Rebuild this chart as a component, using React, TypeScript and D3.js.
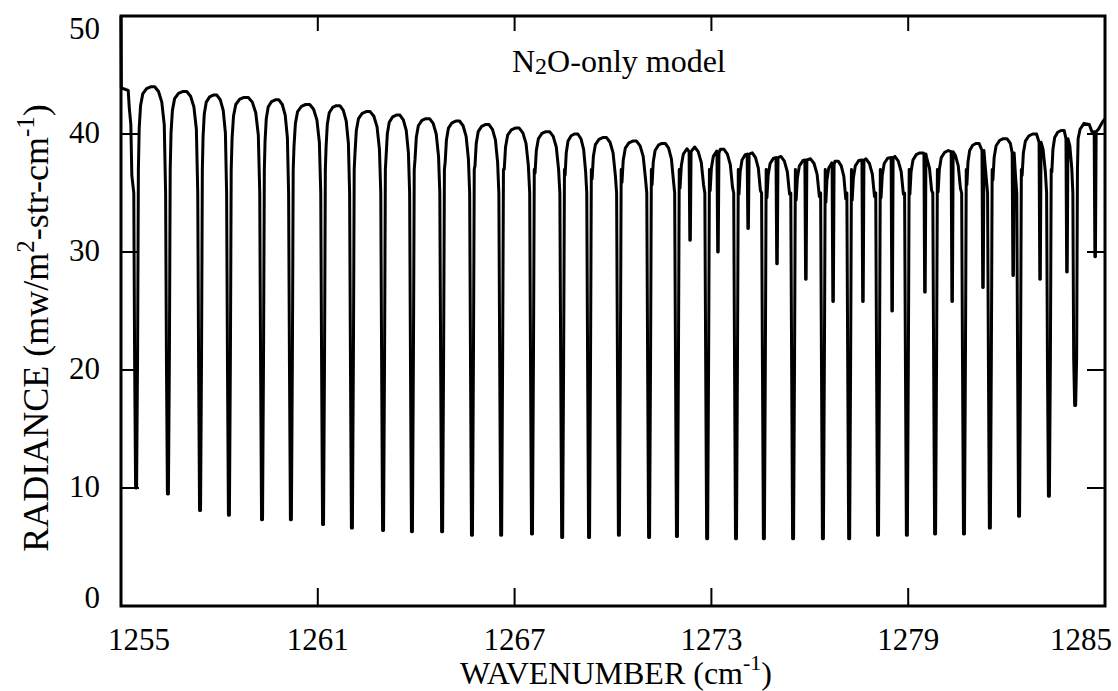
import React from 'react';
import { scaleLinear, line } from 'd3';

// strong N2O lines: wavenumber (cm-1) and radiance at the bottom of each line
const lineCenters = [
  1255.46, 1256.43, 1257.41, 1258.29, 1259.3, 1260.18, 1261.16, 1262.04,
  1262.99, 1263.87, 1264.79, 1265.7, 1266.59, 1267.53, 1268.45, 1269.27,
  1270.18, 1271.1, 1271.95, 1272.87, 1273.75, 1274.6, 1275.49, 1276.4,
  1277.2, 1278.08, 1278.96, 1279.82, 1280.7, 1281.49, 1282.38, 1283.29,
  1284.09,
];
const lineMinima = [
  10.0, 9.5, 8.1, 7.7, 7.3, 7.3, 6.9, 6.6,
  6.4, 6.3, 6.3, 6.0, 6.0, 6.1, 5.8, 5.8,
  6.0, 5.8, 5.9, 5.7, 5.7, 5.7, 5.7, 5.7,
  5.7, 6.0, 6.0, 6.1, 6.1, 6.6, 7.6, 9.3,
  17.0,
];
// top of the arch between one strong line and the next
const archPeaks = [
  44.0, 43.6, 43.3, 43.1, 42.9, 42.5, 42.4, 41.9,
  41.6, 41.3, 41.1, 40.8, 40.5, 40.2, 40.0, 39.7,
  39.4, 39.2, 38.9, 38.7, 38.4, 38.1, 37.9, 37.7,
  37.9, 38.1, 38.4, 38.6, 39.2, 39.6, 40.0, 40.3,
];
// weak (hot band) lines on the right half
const weakCenters = [
  1272.35, 1273.2, 1274.12, 1275.0, 1275.88, 1276.71, 1277.62, 1278.51,
  1279.51, 1280.34, 1281.28, 1282.2, 1283.02, 1283.84, 1284.7,
];
const weakTops = [
  38.5, 38.4, 38.3, 38.0, 37.8, 37.4, 37.8, 38.0,
  38.3, 38.5, 38.6, 38.4, 39.3, 39.6, 40.2,
];
const weakMinima = [
  31.0, 30.0, 32.0, 29.0, 27.7, 25.8, 25.8, 25.0,
  26.6, 25.8, 27.0, 28.0, 27.7, 28.3, 29.6,
];
// start and end of the trace
const leadIn: [number, number][] = [
  [1255.0, 50.0], [1255.01, 43.9], [1255.22, 43.7], [1255.25, 42.3],
  [1255.3, 40.8], [1255.33, 36.5],
];
const tailOut: [number, number][] = [
  [1284.18, 39.6], [1284.24, 40.4], [1284.36, 40.9], [1284.52, 40.8],
  [1284.6, 40.2], [1284.8, 40.4], [1284.92, 41.0], [1285.0, 41.3],
];

const xTicks = [1255, 1261, 1267, 1273, 1279, 1285];
const yTicks = [0, 10, 20, 30, 40, 50];

// shape of one arch between two lines: [fraction of the gap, drop below the peak]
const ARCH: [number, number][] = [
  [0.03, -3.5], [0.08, -1.6], [0.16, -0.6], [0.3, -0.15], [0.45, 0],
  [0.6, 0], [0.74, -0.4], [0.86, -1.3], [0.95, -3.2],
];

function buildTrace() {
  let pts: [number, number][] = [...leadIn];
  lineCenters.forEach((c, i) => {
    const m = lineMinima[i];
    pts.push(
      [c - 0.07, 35], [c - 0.045, 21], [c - 0.015, m],
      [c + 0.015, m], [c + 0.045, 21], [c + 0.07, 37],
    );
    if (i < archPeaks.length) {
      const a = c + 0.07;
      const b = lineCenters[i + 1] - 0.07;
      const p = archPeaks[i];
      ARCH.forEach(([t, dv]) => pts.push([a + t * (b - a), p + dv]));
    }
  });
  pts.push(...tailOut);
  weakCenters.forEach((s, k) => {
    pts = pts.filter(([x]) => x < s - 0.03 || x > s + 0.03);
    pts.push([s - 0.03, weakTops[k]], [s - 0.008, weakMinima[k]], [s + 0.008, weakMinima[k]], [s + 0.03, weakTops[k]]);
  });
  pts.sort((p, q) => p[0] - q[0]);
  return pts;
}

const left = 121;
const right = 1105;
const top = 16;
const bottom = 606;

const App = () => {
  const xScale = scaleLinear().domain([1255, 1285]).range([left, right]);
  const yScale = scaleLinear().domain([0, 50]).range([bottom, top]);

  const trace = buildTrace();
  const spectrum = line<[number, number]>()
    .x((d) => xScale(d[0]))
    .y((d) => yScale(d[1]));

  const innerX = xTicks.slice(1, -1);
  const innerY = yTicks.slice(1, -1);

  return (
    <svg
      width={1118}
      height={691}
      style={{ position: 'absolute', left: 0, top: 0, background: '#fff' }}
      fontFamily="'Liberation Serif', 'Times New Roman', serif"
    >
      <path d={spectrum(trace) || ''} fill="none" stroke="#000" strokeWidth={3} strokeLinejoin="round" />
      <rect x={left} y={top} width={right - left} height={bottom - top} fill="none" stroke="#000" strokeWidth={3} />

      {innerX.map((v) => (
        <g key={'xt' + v} stroke="#000" strokeWidth={2}>
          <line x1={xScale(v)} x2={xScale(v)} y1={bottom} y2={bottom - 18} />
          <line x1={xScale(v)} x2={xScale(v)} y1={top} y2={top + 15} />
        </g>
      ))}
      {innerY.map((v) => (
        <g key={'yt' + v} stroke="#000" strokeWidth={2}>
          <line x1={left} x2={left + 18} y1={yScale(v)} y2={yScale(v)} />
          <line x1={right} x2={right - 18} y1={yScale(v)} y2={yScale(v)} />
        </g>
      ))}

      {xTicks.map((v) => (
        <text key={'xl' + v} x={Math.min(Math.max(xScale(v), 139), 1081)} y={650} fontSize={31} textAnchor="middle">
          {v}
        </text>
      ))}
      {yTicks.map((v) => (
        <text key={'yl' + v} x={100} y={Math.min(Math.max(yScale(v) + 9, 39), 608)} fontSize={31} textAnchor="end">
          {v}
        </text>
      ))}

      <text x={616} y={684} fontSize={32} textAnchor="middle">
        WAVENUMBER (cm<tspan dy={-14} fontSize={22}>-1</tspan>
        <tspan dy={14}>)</tspan>
      </text>

      <text transform="translate(48,328) rotate(-90)" fontSize={36} textAnchor="middle">
        RADIANCE (mw/m<tspan dy={-14} fontSize={25}>2</tspan>
        <tspan dy={14}>-str-cm</tspan>
        <tspan dy={-14} fontSize={25}>-1</tspan>
        <tspan dy={14}>)</tspan>
      </text>

      <text x={512} y={72} fontSize={32}>
        N<tspan dy={2} fontSize={24}>2</tspan>
        <tspan dy={-2}>O-only model</tspan>
      </text>
    </svg>
  );
};

export default App;
